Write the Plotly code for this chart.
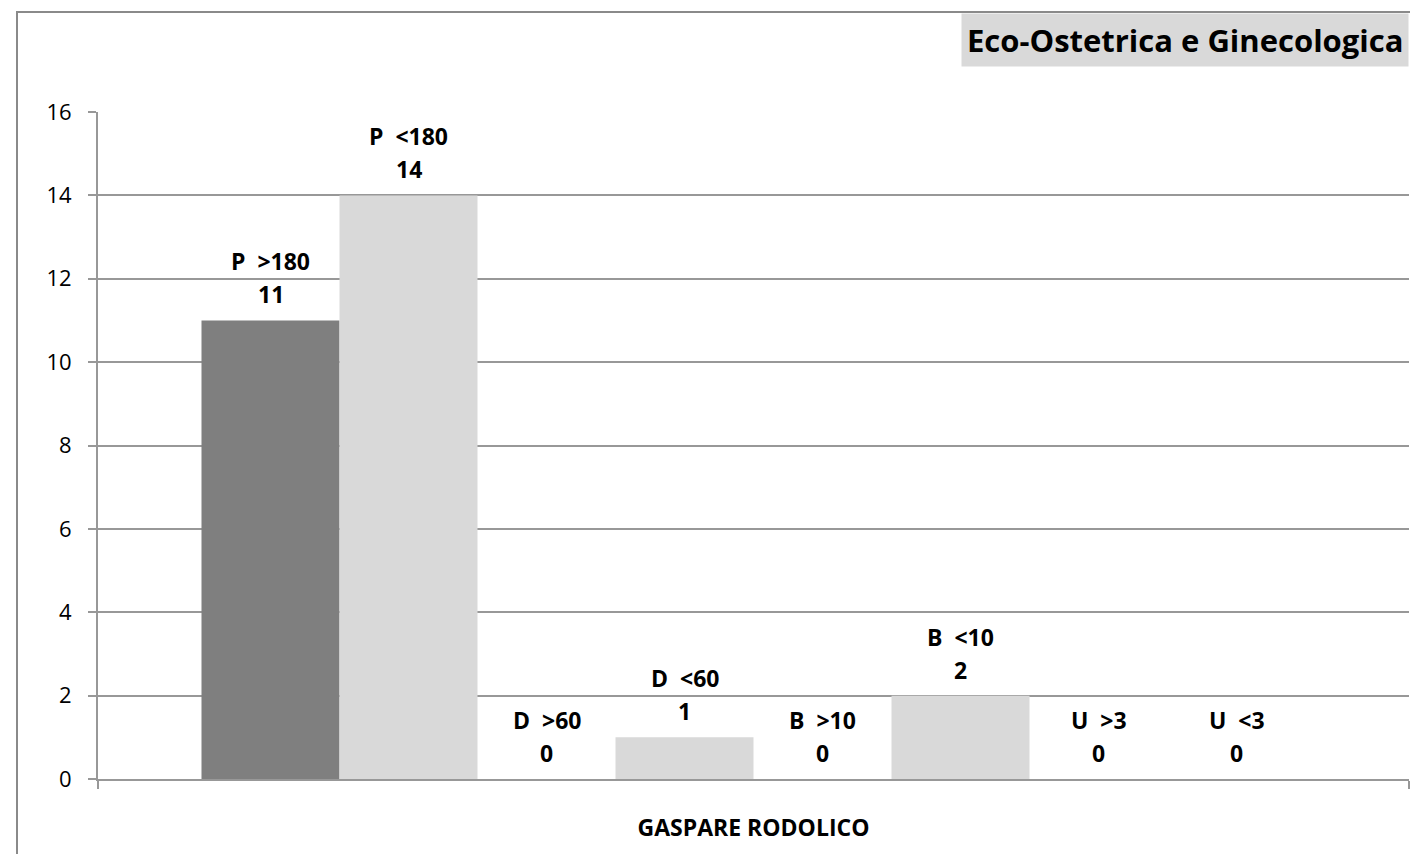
import plotly.graph_objects as go

categories = ["P  >180", "P  <180", "D  >60", "D  <60", "B  >10", "B  <10", "U  >3", "U  <3"]
values = [11, 14, 0, 1, 0, 2, 0, 0]
bar_colors = ["#7f7f7f"] + ["#d9d9d9"] * 7
group_label = "GASPARE RODOLICO"
title_text = "Eco-Ostetrica e Ginecologica"
y_ticks = [0, 2, 4, 6, 8, 10, 12, 14, 16]

# page body has an 8px margin; size figure to fit inside the window
OFF = 8
W, H = 1418 - 2 * OFF, 862 - 2 * OFF
ML, MR, MT, MB = 98 - OFF, 1, 112 - OFF, 75
PW, PH = W - ML - MR, H - MT - MB

xs = list(range(len(categories)))
FONT = "Open Sans"
GRAY = "#989898"

fig = go.Figure()
fig.add_trace(go.Bar(
    x=xs, y=values, width=1.0,
    marker=dict(color=bar_colors, line=dict(width=0)),
    hoverinfo="skip", showlegend=False,
))

annotations = []
for x, name, v in zip(xs, categories, values):
    annotations.append(dict(x=x, y=v, xref="x", yref="y", text=f"<b>{name}</b>",
                            showarrow=False, yshift=59, yanchor="middle",
                            font=dict(family=FONT, size=23, color="#000")))
    annotations.append(dict(x=x, y=v, xref="x", yref="y", text=f"<b>{v}</b>",
                            showarrow=False, yshift=26, yanchor="middle",
                            font=dict(family=FONT, size=23, color="#000")))

# title box
annotations.append(dict(
    x=1.0, y=1 + (MT - (13 - OFF)) / PH, xref="paper", yref="paper",
    xanchor="right", yanchor="top", showarrow=False,
    text=f"<b>{title_text}</b>", bgcolor="#d9d9d9", borderpad=5,
    font=dict(family=FONT, size=31, color="#000"),
))

shapes = [dict(
    type="rect", xref="paper", yref="paper", layer="below",
    x0=(17 - OFF - ML) / PW, x1=1.2, y0=-0.3, y1=1 + (MT - (12 - OFF)) / PH,
    line=dict(color="#8a8a8a", width=2), fillcolor="rgba(0,0,0,0)",
)]

fig.update_layout(
    width=W, height=H,
    margin=dict(l=ML, r=MR, t=MT, b=MB, pad=0),
    paper_bgcolor="white", plot_bgcolor="white",
    annotations=annotations, shapes=shapes,
    xaxis=dict(
        range=[-1.25, 7.5 + 0.75], tickvals=[3.5], ticktext=[f"<b>{group_label}</b>"],
        ticks="", showgrid=False, zeroline=False,
        showline=True, linecolor=GRAY, linewidth=2,
        tickfont=dict(family=FONT, size=23, color="#000"),
        ticklabelstandoff=27,
        minor=dict(tickvals=[-1.25, 8.25], ticks="outside", ticklen=8,
                   tickcolor=GRAY, tickwidth=2, showgrid=False),
        fixedrange=True,
    ),
    yaxis=dict(
        range=[0, 16], tickvals=y_ticks, ticks="outside", ticklen=8,
        tickcolor=GRAY, tickwidth=2,
        showgrid=True, gridcolor=GRAY, gridwidth=1.5,
        zeroline=False, showline=True, linecolor=GRAY, linewidth=2,
        tickfont=dict(family=FONT, size=22, color="#000"),
        ticklabelstandoff=12, fixedrange=True,
    ),
)

fig.write_html("out.html")
